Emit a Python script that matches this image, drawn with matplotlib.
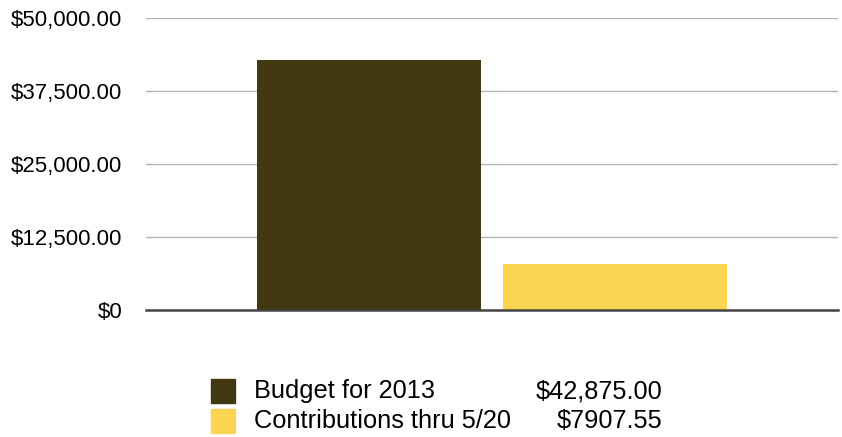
import matplotlib.pyplot as plt
from matplotlib.patches import Rectangle
from matplotlib.ticker import FuncFormatter

# Data
labels = ["Budget for 2013", "Contributions thru 5/20"]
values = [42875.00, 7907.55]
value_text = ["$42,875.00", "$7907.55"]
colors = ["#433910", "#F9D552"]
yticks = [0, 12500, 25000, 37500, 50000]

plt.rcParams['font.family'] = ['Liberation Sans', 'DejaVu Sans']

fig = plt.figure(figsize=(8.42, 4.37), dpi=100)
ax = fig.add_axes([146 / 842, 1 - 310 / 437, 692 / 842, 292 / 437])

positions = [-0.5, 0.5]
ax.bar(positions, values, width=0.914, color=colors, zorder=3)

ax.set_xlim(-1.412, 1.412)
ax.set_ylim(0, 50000)
ax.set_yticks(yticks)


def money(v, pos):
    if v == 0:
        return "$0"
    return f"${v:,.2f}"


ax.yaxis.set_major_formatter(FuncFormatter(money))
ax.tick_params(axis='y', length=0, pad=17, labelsize=16)
ax.set_xticks([])
ax.grid(axis='y', color='#b4b4b4', linewidth=1, zorder=0)

for side in ['top', 'right', 'left']:
    ax.spines[side].set_visible(False)
ax.spines['bottom'].set_color('#444444')
ax.spines['bottom'].set_linewidth(1.8)
ax.spines['bottom'].set_zorder(4)

# Legend drawn below the plot
rows_y = [391, 421]
for lab, vt, col, yp in zip(labels, value_text, colors, rows_y):
    fy = 1 - yp / 437
    fig.patches.append(Rectangle((211 / 842, fy - 12 / 437), 24 / 842, 24 / 437,
                                 transform=fig.transFigure, color=col))
    fig.text(254 / 842, fy, lab, fontsize=18.3, va='center', ha='left')
    fig.text(662 / 842, fy, vt, fontsize=18.3, va='center', ha='right')

fig.savefig("out.png", dpi=100)
